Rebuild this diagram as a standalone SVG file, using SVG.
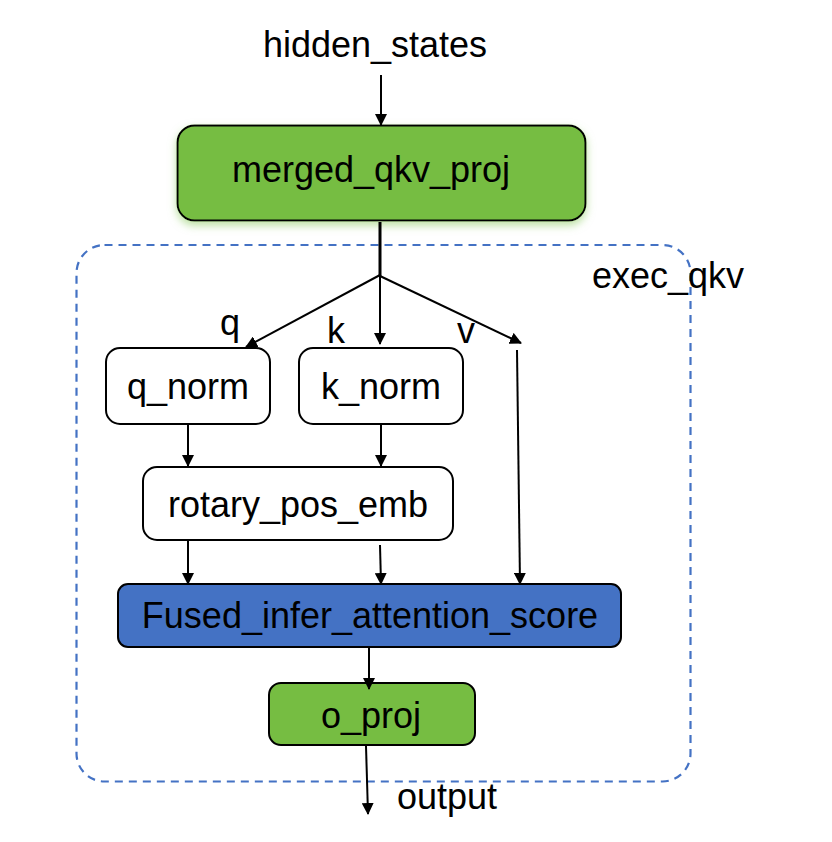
<svg xmlns="http://www.w3.org/2000/svg" width="832" height="842" viewBox="0 0 832 842">
<defs>
<marker id="ah" markerWidth="12" markerHeight="12" refX="11" refY="6" orient="auto" markerUnits="userSpaceOnUse">
<path d="M0,0 L12,6 L0,12 Z" fill="#000"/>
</marker>
<filter id="glow" x="-10%" y="-20%" width="120%" height="150%">
<feGaussianBlur in="SourceAlpha" stdDeviation="4"/>
<feOffset dx="0" dy="4" result="o"/>
<feFlood flood-color="#9fd47a" flood-opacity="0.7"/>
<feComposite operator="in" in2="o"/>
<feMerge><feMergeNode/><feMergeNode in="SourceGraphic"/></feMerge>
</filter>
<style>
text{font-family:"Liberation Sans",Arial,sans-serif;font-size:36px;fill:#000}
.c{text-anchor:middle}
.box{stroke:#000;stroke-width:2}
.green{fill:#76bd42}
.white{fill:#fff}
.blue{fill:#4472c4}
.ln{stroke:#000;stroke-width:2;fill:none}
</style>
</defs>
<rect width="832" height="842" fill="#fff"/>
<g id="exec_qkv">
<rect x="76.5" y="245" width="614" height="536.5" rx="28" fill="none" stroke="#4472c4" stroke-width="2.2" stroke-dasharray="8,6"/>
<text x="592" y="288">exec_qkv</text>
</g>
<g id="hidden_states"><text class="c" x="375" y="57">hidden_states</text></g>
<g id="merged_qkv_proj">
<rect class="box green" x="177.5" y="125.5" width="408" height="95" rx="17" stroke-width="3" filter="url(#glow)"/>
<text class="c" x="371" y="182">merged_qkv_proj</text>
</g>
<g id="q_norm">
<rect class="box white" x="106" y="348" width="164" height="76" rx="14"/>
<text class="c" x="188" y="399">q_norm</text>
</g>
<g id="k_norm">
<rect class="box white" x="299" y="348" width="164" height="76" rx="14"/>
<text class="c" x="381" y="399">k_norm</text>
</g>
<g id="rotary_pos_emb">
<rect class="box white" x="143" y="467" width="310" height="73" rx="14"/>
<text class="c" x="298" y="517">rotary_pos_emb</text>
</g>
<g id="fused">
<rect class="box blue" x="118" y="584" width="503" height="63" rx="10"/>
<text class="c" x="370" y="628">Fused_infer_attention_score</text>
</g>
<g id="o_proj">
<rect class="box green" x="269" y="683" width="206" height="62" rx="12"/>
<text class="c" x="371" y="728">o_proj</text>
</g>
<g id="output"><text x="397" y="809">output</text></g>
<g id="connectors">
<line class="ln" x1="381" y1="75" x2="381" y2="125" marker-end="url(#ah)"/>
<line x1="380" y1="222" x2="380" y2="276" stroke="#000" stroke-width="3"/>
<line class="ln" x1="380" y1="275" x2="246" y2="347" marker-end="url(#ah)"/>
<line class="ln" x1="380" y1="275" x2="380" y2="344" marker-end="url(#ah)"/>
<line class="ln" x1="380" y1="276" x2="521" y2="343" marker-end="url(#ah)"/>
<text x="220" y="335">q</text>
<text x="327" y="343">k</text>
<text x="457" y="343">v</text>
<line class="ln" x1="188" y1="424" x2="188" y2="466" marker-end="url(#ah)"/>
<line class="ln" x1="381" y1="424" x2="381" y2="466" marker-end="url(#ah)"/>
<line class="ln" x1="188" y1="541" x2="188" y2="584" marker-end="url(#ah)"/>
<line class="ln" x1="380" y1="545" x2="381" y2="584" marker-end="url(#ah)"/>
<line class="ln" x1="517" y1="350" x2="520" y2="584" marker-end="url(#ah)"/>
<line class="ln" x1="369" y1="648" x2="369" y2="689" marker-end="url(#ah)"/>
<line class="ln" x1="366" y1="746" x2="368" y2="814" marker-end="url(#ah)"/>
</g>
</svg>
